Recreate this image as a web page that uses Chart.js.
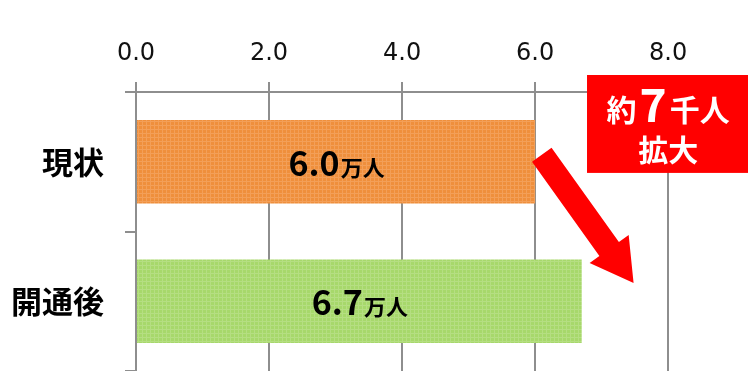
<!DOCTYPE html>
<html>
<head>
<meta charset="utf-8">
<script src="https://cdn.jsdelivr.net/npm/chart.js@4.4.1/dist/chart.umd.min.js"></script>
<style>
    html, body { margin: 0; padding: 0; background: #fff; overflow: hidden; }
    #chart { display: block; }
</style>
</head>
<body>
<canvas id="chart" width="748" height="371"></canvas>
<script>
// Chart data
const categories = ['現状', '開通後'];
const values = [6.0, 6.7];
const valueUnit = '万人';
const xTicks = [0, 2, 4, 6, 8];
const xMax = 9.2;
const barColors = ['#EF8F3C', '#A7D86B'];
const barLineColors = ['#F39F58', '#B5DE82'];

// Callout text
const calloutLine1 = ['約', '7', '千人'];
const calloutLine2 = '拡大';

const GRID = '#8e8e8e';
const CJK = '"Noto Sans CJK JP", sans-serif';

// Textured fill like the original bars
function makePattern(base, line) {
    const tile = document.createElement('canvas');
    tile.width = 4;
    tile.height = 4;
    const t = tile.getContext('2d');
    t.fillStyle = base;
    t.fillRect(0, 0, 4, 4);
    t.fillStyle = line;
    t.fillRect(0, 1, 4, 1);
    t.fillRect(2, 0, 1, 4);
    return t.createPattern(tile, 'repeat');
}

// Labels, arrow and callout box
const overlayPlugin = {
    id: 'overlay',
    afterDatasetsDraw(chart) {
        const ctx = chart.ctx;
        const x = chart.scales.x;
        const y = chart.scales.y;
        const area = chart.chartArea;

        // Value labels inside bars
        chart.getDatasetMeta(0).data.forEach((bar, i) => {
            const cx = (bar.base + bar.x) / 2;
            const baseLine = bar.y + 14;
            const num = values[i].toFixed(1);
            ctx.save();
            ctx.fillStyle = '#000';
            ctx.textBaseline = 'alphabetic';
            ctx.textAlign = 'left';
            ctx.font = 'bold 34px ' + CJK;
            const w1 = ctx.measureText(num).width;
            ctx.font = 'bold 22px ' + CJK;
            const w2 = ctx.measureText(valueUnit).width;
            const left = cx - (w1 + w2) / 2;
            ctx.font = 'bold 34px ' + CJK;
            ctx.fillText(num, left, baseLine);
            ctx.font = 'bold 22px ' + CJK;
            ctx.fillText(valueUnit, left + w1 + 1, baseLine);
            ctx.restore();
        });

        // Arrow from first bar end to second bar
        const tail = { x: x.getPixelForValue(6.1), y: y.getPixelForValue(-0.05) };
        const tip = { x: x.getPixelForValue(7.48), y: y.getPixelForValue(0.87) };
        const dx = tip.x - tail.x, dy = tip.y - tail.y;
        const len = Math.sqrt(dx * dx + dy * dy);
        const ux = dx / len, uy = dy / len;
        const nx = -uy, ny = ux;
        const shaftW = 24, headW = 48, headL = 42;
        const bx = tip.x - ux * headL, by = tip.y - uy * headL;
        ctx.save();
        ctx.fillStyle = '#FF0000';
        ctx.beginPath();
        ctx.moveTo(tail.x + nx * shaftW / 2, tail.y + ny * shaftW / 2);
        ctx.lineTo(bx + nx * shaftW / 2, by + ny * shaftW / 2);
        ctx.lineTo(bx + nx * headW / 2, by + ny * headW / 2);
        ctx.lineTo(tip.x, tip.y);
        ctx.lineTo(bx - nx * headW / 2, by - ny * headW / 2);
        ctx.lineTo(bx - nx * shaftW / 2, by - ny * shaftW / 2);
        ctx.lineTo(tail.x - nx * shaftW / 2, tail.y - ny * shaftW / 2);
        ctx.closePath();
        ctx.fill();
        ctx.restore();

        // Callout box
        const boxLeft = x.getPixelForValue(6.78);
        const boxRight = area.right;
        const boxTop = area.top - 17;
        const boxBottom = y.getPixelForValue(0.08);
        const mid = x.getPixelForValue(8.0);
        ctx.save();
        ctx.fillStyle = '#FF0000';
        ctx.fillRect(boxLeft, boxTop, boxRight - boxLeft, boxBottom - boxTop);
        ctx.fillStyle = '#fff';
        ctx.textBaseline = 'alphabetic';
        ctx.textAlign = 'left';
        const fonts = ['bold 30px ' + CJK, 'bold 46px ' + CJK, 'bold 30px ' + CJK];
        const widths = calloutLine1.map((s, i) => {
            ctx.font = fonts[i];
            return ctx.measureText(s).width;
        });
        const gap = 3;
        let px = mid - (widths[0] + widths[1] + widths[2] + gap * 2) / 2;
        const line1Base = boxTop + 46;
        calloutLine1.forEach((s, i) => {
            ctx.font = fonts[i];
            ctx.fillText(s, px, line1Base + (i === 1 ? 1 : 0));
            px += widths[i] + gap;
        });
        ctx.font = 'bold 30px ' + CJK;
        ctx.textAlign = 'center';
        ctx.fillText(calloutLine2, mid, boxTop + 86);
        ctx.restore();
    }
};

const ctx = document.getElementById('chart');
const chart = new Chart(ctx, {
    type: 'bar',
    data: {
        labels: categories,
        datasets: [{
            data: values,
            backgroundColor: barColors.map((c, i) => makePattern(c, barLineColors[i])),
            borderWidth: 0,
            barPercentage: 0.6,
            categoryPercentage: 1.0
        }]
    },
    options: {
        indexAxis: 'y',
        responsive: false,
        maintainAspectRatio: false,
        devicePixelRatio: 1,
        animation: false,
        layout: { padding: { left: 0, right: 0, top: 0, bottom: 0 } },
        plugins: {
            legend: { display: false },
            tooltip: { enabled: false }
        },
        scales: {
            x: {
                position: 'top',
                min: 0,
                max: xMax,
                afterBuildTicks: (scale) => {
                    scale.ticks = xTicks.map(v => ({ value: v }));
                },
                afterFit: (scale) => {
                    scale.height = 92;
                    scale.paddingLeft = 0;
                    scale.paddingRight = 0;
                },
                grid: {
                    color: GRID,
                    lineWidth: 2,
                    tickLength: 10
                },
                border: { display: true, color: GRID, width: 2 },
                ticks: {
                    color: '#111',
                    padding: 14,
                    maxRotation: 0,
                    font: { family: '"DejaVu Sans", sans-serif', size: 24 },
                    callback: (v) => Number(v).toFixed(1)
                }
            },
            y: {
                afterFit: (scale) => {
                    scale.width = 136;
                    scale.paddingTop = 0;
                    scale.paddingBottom = 0;
                },
                grid: {
                    offset: true,
                    drawOnChartArea: false,
                    // bottom boundary tick is cut off in the original
                    color: (c) => (c.index >= categories.length ? 'rgba(0,0,0,0)' : GRID),
                    lineWidth: 2,
                    tickLength: 11
                },
                border: { display: true, color: GRID, width: 2 },
                ticks: {
                    color: '#000',
                    padding: 21,
                    font: { family: CJK, size: 31, weight: 'bold' }
                }
            }
        }
    },
    plugins: [overlayPlugin]
});
</script>
</body>
</html>
